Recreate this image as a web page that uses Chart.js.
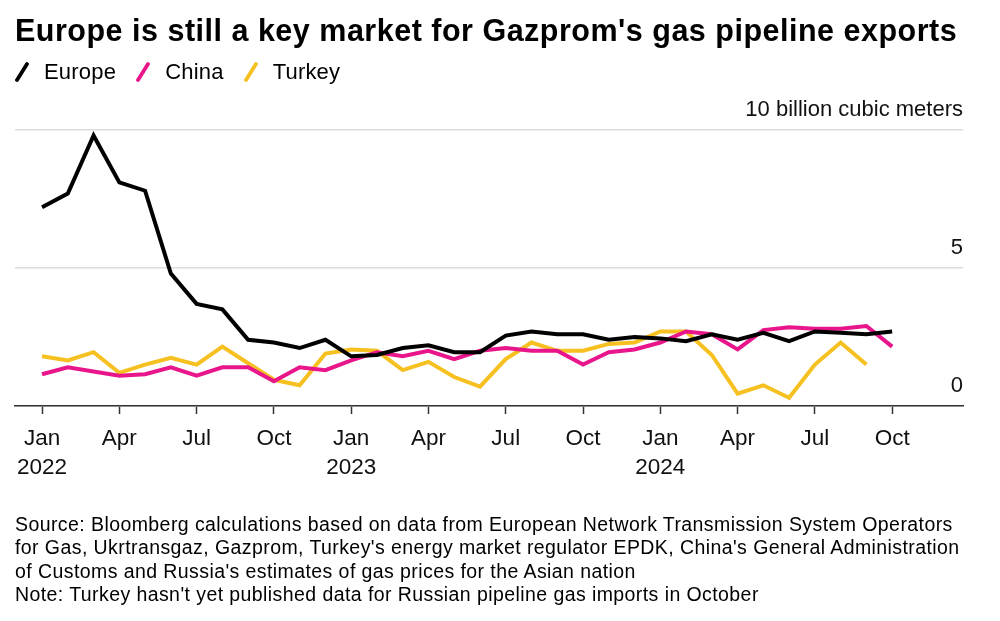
<!DOCTYPE html>
<html>
<head>
<meta charset="utf-8">
<script src="https://cdn.jsdelivr.net/npm/chart.js@4.4.1/dist/chart.umd.min.js"></script>
<style>
  html, body { margin: 0; padding: 0; background: #fff; }
  body { width: 1000px; height: 621px; position: relative; overflow: hidden; font-family: "Liberation Sans", Arial, sans-serif; color: #000; }
  #title { position: absolute; left: 15px; top: 15px; font-size: 30.5px; line-height: 1; font-weight: bold; letter-spacing: 0.5px; white-space: nowrap; }
  #legend { position: absolute; left: 15px; top: 61px; font-size: 22px; line-height: 22px; display: flex; align-items: center; }
  #legend .item { display: flex; align-items: center; margin-right: 20px; letter-spacing: 0.2px; }
  #legend svg { margin-right: 15px; }
  #chart-wrap { position: absolute; left: 0; top: 0; width: 1000px; height: 621px; }
  #note { position: absolute; left: 15px; top: 513px; font-size: 19.5px; letter-spacing: 0.42px; line-height: 23.3px; width: 985px; white-space: nowrap; }
</style>
</head>
<body>
<div id="chart-wrap"><canvas id="gas-chart"></canvas></div>
<div id="title">Europe is still a key market for Gazprom's gas pipeline exports</div>
<div id="legend"></div>
<div id="note">Source: Bloomberg calculations based on data from European Network Transmission System Operators<br>for Gas, Ukrtransgaz, Gazprom, Turkey's energy market regulator EPDK, China's General Administration<br>of Customs and Russia's estimates of gas prices for the Asian nation<br>Note: Turkey hasn't yet published data for Russian pipeline gas imports in October</div>
<script>
// monthly pipeline exports, billion cubic meters, Jan 2022 .. Oct 2024
var europe = [7.2, 7.7, 9.8, 8.1, 7.8, 4.8, 3.7, 3.5, 2.4, 2.3, 2.1, 2.4,
              1.8, 1.85, 2.1, 2.2, 1.95, 1.95, 2.55, 2.7, 2.6, 2.6, 2.4, 2.5,
              2.45, 2.35, 2.6, 2.4, 2.65, 2.35, 2.7, 2.65, 2.6, 2.7];
var china = [1.15, 1.4, 1.25, 1.1, 1.15, 1.4, 1.1, 1.4, 1.4, 0.9, 1.4, 1.3,
             1.65, 1.95, 1.8, 2.0, 1.7, 2.0, 2.1, 2.0, 2.0, 1.5, 1.95, 2.05,
             2.3, 2.7, 2.6, 2.05, 2.75, 2.85, 2.8, 2.8, 2.9, 2.15];
var turkey = [1.8, 1.65, 1.95, 1.2, 1.5, 1.75, 1.5, 2.15, 1.55, 0.95, 0.75, 1.9,
              2.05, 2.0, 1.3, 1.6, 1.05, 0.7, 1.7, 2.3, 2.0, 2.0, 2.25, 2.3,
              2.7, 2.7, 1.85, 0.45, 0.75, 0.3, 1.5, 2.3, 1.5];
var seriesNames = ['Europe', 'China', 'Turkey'];
var seriesColors = ['#000000', '#e9168b', '#f6c020'];
var tickMonths = [0, 3, 6, 9, 12, 15, 18, 21, 24, 27, 30, 33];
var tickLabels = [['Jan', '2022'], 'Apr', 'Jul', 'Oct', ['Jan', '2023'], 'Apr', 'Jul', 'Oct', ['Jan', '2024'], 'Apr', 'Jul', 'Oct'];
var yTicks = [0, 5, 10];
var yLabels = ['0', '5', '10 billion cubic meters'];

var legendEl = document.getElementById('legend');
seriesNames.forEach(function(name, i) {
    var item = document.createElement('div');
    item.className = 'item';
    item.innerHTML = '<svg width="14" height="20"><line x1="2" y1="18" x2="12" y2="2" stroke="' + seriesColors[i] + '" stroke-width="3.8" stroke-linecap="round"/></svg>' + name;
    legendEl.appendChild(item);
});

var seriesData = [europe, china, turkey];
var FONT = { family: '"Liberation Sans", Arial, sans-serif', size: 22.5 };

new Chart(document.getElementById('gas-chart').getContext('2d'), {
    type: 'line',
    data: {
        datasets: seriesData.map(function(vals, i) {
            return {
                label: seriesNames[i],
                data: vals.map(function(v, m) { return { x: m, y: v }; }),
                borderColor: seriesColors[i],
                borderWidth: 4,
                pointRadius: 0,
                tension: 0,
                fill: false
            };
        })
    },
    options: {
        responsive: true,
        maintainAspectRatio: false,
        animation: false,
        layout: { padding: { left: 15, right: 37, top: 130, bottom: 135 } },
        plugins: { legend: { display: false }, tooltip: { enabled: false } },
        scales: {
            x: {
                type: 'linear',
                min: -1.05,
                max: 35.75,
                afterBuildTicks: function(scale) {
                    scale.ticks = tickMonths.map(function(v) { return { value: v }; });
                },
                afterFit: function(scale) { scale.height = 80; },
                grid: { drawOnChartArea: false, drawTicks: true, tickLength: 8, tickColor: '#333', tickWidth: 1.5 },
                border: { display: true, color: '#333', width: 1.5 },
                ticks: {
                    autoSkip: false,
                    maxRotation: 0,
                    padding: 10,
                    color: '#111',
                    font: { family: FONT.family, size: FONT.size, lineHeight: 1.29 },
                    callback: function(value, index) { return tickLabels[index]; }
                }
            },
            y: {
                position: 'right',
                min: 0,
                max: 10,
                afterBuildTicks: function(scale) {
                    scale.ticks = yTicks.map(function(v) { return { value: v }; });
                },
                afterFit: function(scale) { scale.width = 0; },
                grid: { color: '#dcdcdc', lineWidth: 1.5, drawTicks: false },
                border: { display: false },
                ticks: {
                    mirror: true,
                    padding: 0,
                    labelOffset: -20,
                    color: '#111',
                    font: { family: FONT.family, size: 22 },
                    callback: function(value, index) { return yLabels[index]; }
                }
            }
        }
    }
});
</script>
</body>
</html>
